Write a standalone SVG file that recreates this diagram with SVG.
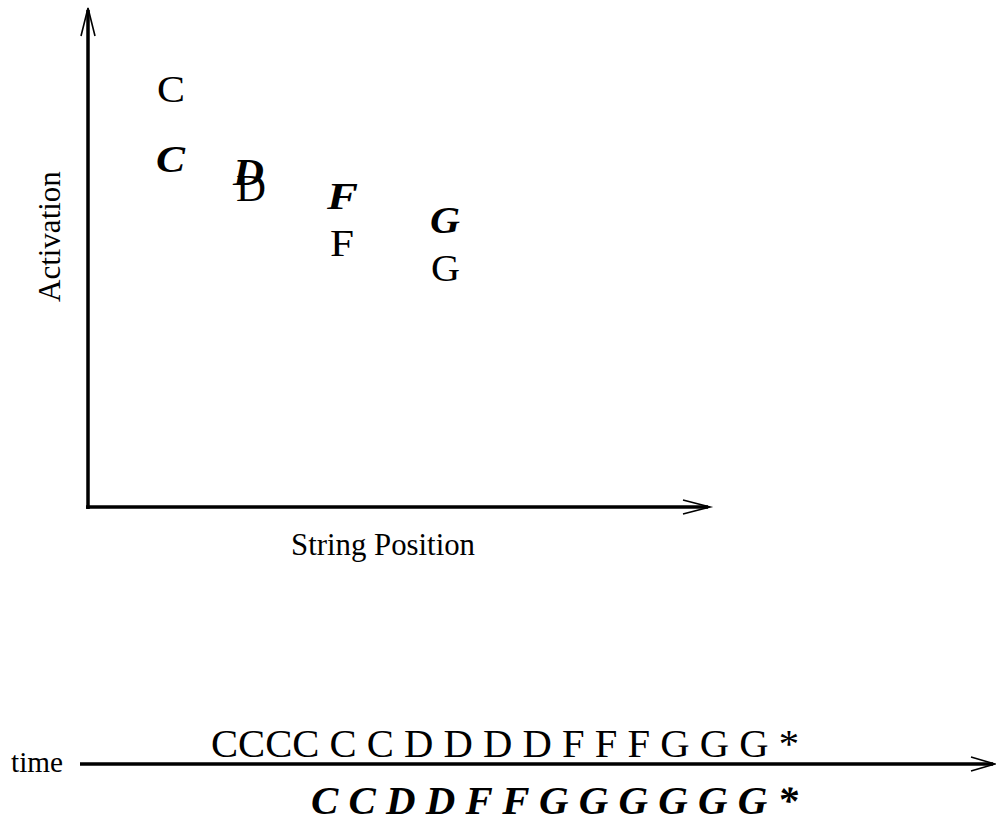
<svg xmlns="http://www.w3.org/2000/svg" width="996" height="829" viewBox="0 0 996 829">
<style>
.t{font-family:"Liberation Serif","Times New Roman",serif;fill:#000}
.r{font-size:38px}
.bi{font-size:38px;font-weight:bold;font-style:italic}
.axis{stroke:#000;stroke-width:3.5;fill:none}
.head{stroke:#000;stroke-width:1.6;fill:none}
</style>
<rect width="996" height="829" fill="#fff"/>
<g id="connectors">
<line class="axis" x1="88" y1="509" x2="88" y2="10"/>
<polyline class="head" points="81,36 88,8 95,36"/>
<line class="axis" x1="86" y1="507" x2="708" y2="507"/>
<polyline class="head" points="683,500 710,507 683,514"/>
<line class="axis" x1="80" y1="764" x2="993" y2="764"/>
<polyline class="head" points="971,757 995,764 971,771"/>
</g>
<g id="label-activation"><text class="t" font-size="31" transform="translate(60,302) rotate(-90)">Activation</text></g>
<g id="label-string-position"><text class="t" font-size="31" x="291" y="555" textLength="184" lengthAdjust="spacingAndGlyphs">String Position</text></g>
<g id="C-regular"><text class="t r" x="157" y="102" textLength="28" lengthAdjust="spacingAndGlyphs">C</text></g>
<g id="C-bold"><text class="t bi" x="156" y="172" textLength="29" lengthAdjust="spacingAndGlyphs">C</text></g>
<g id="D-bold"><text class="t bi" x="233" y="185" textLength="31" lengthAdjust="spacingAndGlyphs">D</text></g>
<g id="D-regular"><text class="t r" x="236" y="201" textLength="30" lengthAdjust="spacingAndGlyphs">D</text></g>
<g id="F-bold"><text class="t bi" x="327" y="209" textLength="31" lengthAdjust="spacingAndGlyphs">F</text></g>
<g id="F-regular"><text class="t r" x="330" y="256" textLength="24" lengthAdjust="spacingAndGlyphs">F</text></g>
<g id="G-bold"><text class="t bi" x="430" y="233" textLength="30" lengthAdjust="spacingAndGlyphs">G</text></g>
<g id="G-regular"><text class="t r" x="431" y="281" textLength="29" lengthAdjust="spacingAndGlyphs">G</text></g>
<g id="label-time"><text class="t" font-size="30" x="11" y="772" textLength="52" lengthAdjust="spacingAndGlyphs">time</text></g>
<g id="sequence-top"><text class="t" font-size="39" x="211" y="757" textLength="588" lengthAdjust="spacingAndGlyphs">CCCC C C D D D D F F F G G G *</text></g>
<g id="sequence-bottom"><text class="t" font-size="39" font-weight="bold" font-style="italic" x="311" y="814" textLength="487" lengthAdjust="spacingAndGlyphs">C C D D F F G G G G G G *</text></g>
</svg>
